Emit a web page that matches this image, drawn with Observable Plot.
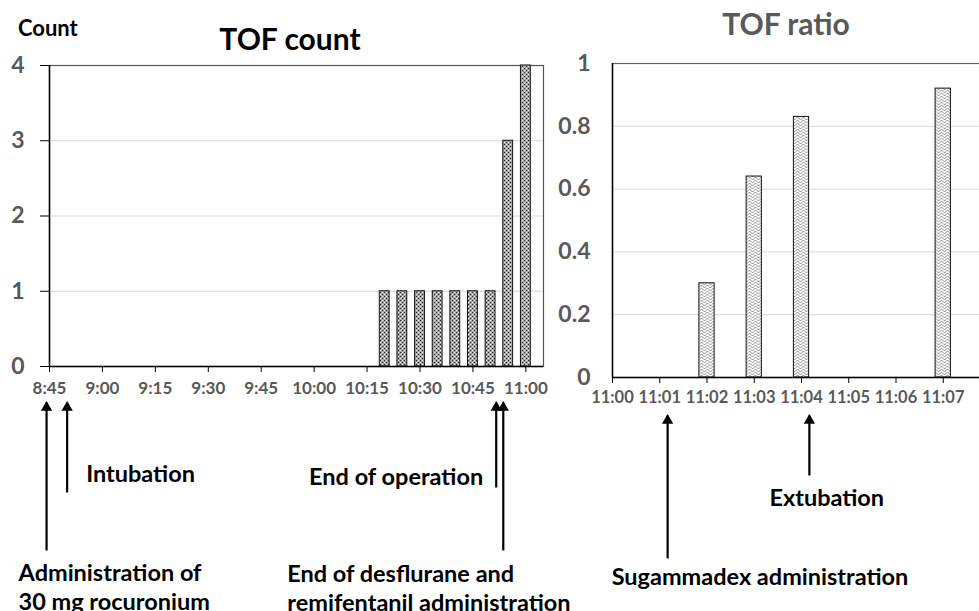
<!DOCTYPE html>
<html>
<head>
<meta charset="utf-8">
<script src="https://cdn.jsdelivr.net/npm/d3@7"></script>
<script src="https://cdn.jsdelivr.net/npm/@observablehq/plot@0.6"></script>
<style>
  html, body { margin: 0; padding: 0; background: #fff; overflow: hidden; }
  #wrap { position: relative; width: 979px; height: 611px; overflow: hidden; font-family: Lato, "Open Sans", sans-serif; }
  .lbl { position: absolute; line-height: 1; transform: translate(0, -50%); white-space: nowrap; font-weight: bold; }
  .ctr { transform: translate(-50%, -50%); }
</style>
</head>
<body>
<div id="wrap"></div>
<script>
// ---------- data ----------
const countTimes  = ["10:20","10:25","10:30","10:35","10:40","10:45","10:50","10:55","11:00"];
const countValues = [1, 1, 1, 1, 1, 1, 1, 3, 4];
const countXTicks = ["8:45","9:00","9:15","9:30","9:45","10:00","10:15","10:30","10:45","11:00"];
const countYTicks = [0, 1, 2, 3, 4];

const ratioTimes  = ["11:02","11:03","11:04","11:07"];
const ratioValues = [0.30, 0.64, 0.83, 0.92];
const ratioXTicks = ["11:00","11:01","11:02","11:03","11:04","11:05","11:06","11:07"];
const ratioYTicks = [0, 0.2, 0.4, 0.6, 0.8, 1];

// annotation events (time of arrow, label)
const countEvents = ["8:44:10", "8:50", "10:51:36", "10:53:36"];
const countLabels = ["Administration of\n30 mg rocuronium", "Intubation", "End of operation", "End of desflurane and\nremifentanil administration"];
const countArrowBottom = [-2.445, -1.674, -1.608, -2.445];
const countLabelY = [-2.924, -1.409, -1.449, -2.937];
const countArrowTip = -0.478;

const ratioEvents = ["11:01:10", "11:04:10"];
const ratioLabels = ["Sugammadex administration", "Extubation"];
const ratioArrowBottom = [-0.576, -0.312];
const ratioLabelY = [-0.637, -0.385];
const ratioArrowTip = -0.121;

// label placement relative to the arrow (layout only)
const countLabelDx = [-28, 19, -13, -216];
const countLabelAnchor = ["start", "start", "end", "start"];
const ratioLabelDx = [-56, -40];

// ---------- helpers ----------
const parseT = s => { const [h, m, sec = 0] = s.split(":").map(Number); return new Date(2020, 0, 1, h, m, sec); };
const addMin = (d, m) => new Date(+d + m * 60000);
const fmt = d3.timeFormat("%-H:%M");

const countData = countTimes.map((t, i) => ({t: parseT(t), v: countValues[i]}));
const ratioData = ratioTimes.map((t, i) => ({t: parseT(t), v: ratioValues[i]}));
const countAnn = countEvents.map((t, i) => ({t: parseT(t), label: countLabels[i], yb: countArrowBottom[i], yl: countLabelY[i], yt: countArrowTip}));
const ratioAnn = ratioEvents.map((t, i) => ({t: parseT(t), label: ratioLabels[i], yb: ratioArrowBottom[i], yl: ratioLabelY[i], yt: ratioArrowTip}));

const wrap = document.getElementById("wrap");
const FONT = "Lato, 'Open Sans', sans-serif";
const ANN_SIZE = 23.5;

// arrow = shaft (link) + filled triangle head (dot)
function arrowMarks(ann) {
  return [
    Plot.link(ann, {x1: "t", x2: "t", y1: "yb", y2: "yt", stroke: "#000", strokeWidth: 2.2, transform: null}),
    Plot.dot(ann, {x: "t", y: "yt", symbol: "triangle", r: 4.2, fill: "#000", stroke: "none", dy: 5})
  ];
}

// ---------- left chart: TOF count ----------
const left = Plot.plot({
  width: 560, height: 611,
  marginLeft: 49, marginRight: 17, marginTop: 65, marginBottom: 245,
  x: {type: "time", domain: [parseT("8:45"), parseT("11:05")]},
  y: {domain: [0, 4]},
  style: {fontFamily: FONT, fontWeight: "bold", overflow: "visible", background: "transparent"},
  marks: [
    Plot.gridY(countYTicks.slice(1, -1), {stroke: "#d9d9d9", strokeOpacity: 1}),
    Plot.frame({stroke: "#555", strokeWidth: 1.2}),
    Plot.rectY(countData, {
      x1: d => addMin(d.t, -2.5), x2: d => addMin(d.t, 2.5), y: "v",
      insetLeft: 3.9, insetRight: 3.9,
      fill: "url(#checker)", stroke: "#111", strokeWidth: 1
    }),
    Plot.ruleY([0], {stroke: "#000", strokeWidth: 1.5}),
    Plot.ruleX([parseT("8:45")], {y1: 0, y2: 4, stroke: "#000", strokeWidth: 1.5}),
    Plot.axisY(countYTicks, {tickSize: 9, tickPadding: 16, fontSize: 23, fontWeight: "bold", fill: "#595959", stroke: "#000", tickFormat: d => String(d), label: null}),
    Plot.axisX(countXTicks.map(parseT), {tickSize: 6, tickPadding: 9, fontSize: 17, fontWeight: "bold", fill: "#595959", stroke: "#000", tickFormat: fmt, label: null}),
    ...arrowMarks(countAnn),
    ...countAnn.map((a, i) => Plot.text([a], {
      x: "t", y: "yl", text: "label", fontSize: ANN_SIZE, fontWeight: "bold", fill: "#000", lineHeight: 1.2,
      textAnchor: countLabelAnchor[i], dx: countLabelDx[i]
    }))
  ]
});
d3.select(left).insert("defs", ":first-child").html(`
  <pattern id="checker" width="4" height="4" patternUnits="userSpaceOnUse">
    <rect width="4" height="4" fill="#a4a4a4"/>
    <rect x="0" y="0" width="1" height="1" fill="#222"/>
    <rect x="2" y="2" width="1" height="1" fill="#222"/>
    <rect x="2" y="0" width="1" height="1" fill="#f4f4f4"/>
    <rect x="0" y="2" width="1" height="1" fill="#f4f4f4"/>
  </pattern>`);
left.style.position = "absolute"; left.style.left = "0px"; left.style.top = "0px";
wrap.appendChild(left);

// ---------- right chart: TOF ratio ----------
const right = Plot.plot({
  width: 440, height: 611,
  marginLeft: 62, marginRight: 0, marginTop: 63, marginBottom: 234,
  x: {type: "time", domain: [parseT("11:00"), parseT("11:08")]},
  y: {domain: [0, 1]},
  style: {fontFamily: FONT, fontWeight: "bold", overflow: "visible", background: "transparent"},
  marks: [
    Plot.gridY(ratioYTicks.slice(1, -1), {stroke: "#d9d9d9", strokeOpacity: 1}),
    Plot.frame({stroke: "#666", strokeWidth: 1.2}),
    Plot.rectY(ratioData, {
      x1: d => addMin(d.t, -0.5), x2: d => addMin(d.t, 0.5), y: "v",
      insetLeft: 16, insetRight: 16,
      fill: "url(#wave)", stroke: "#111", strokeWidth: 1
    }),
    Plot.ruleY([0], {stroke: "#000", strokeWidth: 1.5}),
    Plot.ruleX([parseT("11:00")], {y1: 0, y2: 1, stroke: "#000", strokeWidth: 1.5}),
    Plot.axisY(ratioYTicks, {tickSize: 0, tickPadding: 22, fontSize: 23, fontWeight: "bold", fill: "#595959", tickFormat: d => String(d), label: null}),
    Plot.axisX(ratioXTicks.map(parseT), {tickSize: 6, tickPadding: 8, fontSize: 16.5, fontWeight: "bold", fill: "#595959", stroke: "#000", tickFormat: fmt, label: null}),
    ...arrowMarks(ratioAnn),
    ...ratioAnn.map((a, i) => Plot.text([a], {
      x: "t", y: "yl", text: "label", fontSize: ANN_SIZE, fontWeight: "bold", fill: "#000", textAnchor: "start",
      dx: ratioLabelDx[i]
    }))
  ]
});
d3.select(right).insert("defs", ":first-child").html(`
  <pattern id="wave" width="6" height="3" patternUnits="userSpaceOnUse">
    <rect width="6" height="3" fill="#fff"/>
    <path d="M0,1.5 C1,0.2 2,0.2 3,1.5 S5,2.8 6,1.5" fill="none" stroke="#555" stroke-width="0.7"/>
  </pattern>`);
right.style.position = "absolute"; right.style.left = "550px"; right.style.top = "0px";
wrap.appendChild(right);

// ---------- titles ----------
function addLabel(text, x, y, size, color, centered) {
  const d = document.createElement("div");
  d.className = "lbl" + (centered ? " ctr" : "");
  d.textContent = text;
  d.style.left = x + "px"; d.style.top = y + "px";
  d.style.fontSize = size + "px"; d.style.color = color;
  wrap.appendChild(d);
}
addLabel("Count", 18, 28, 22, "#000", false);
addLabel("TOF count", 290, 38, 30, "#000", true);
addLabel("TOF ratio", 786, 23, 30, "#595959", true);
</script>
</body>
</html>
